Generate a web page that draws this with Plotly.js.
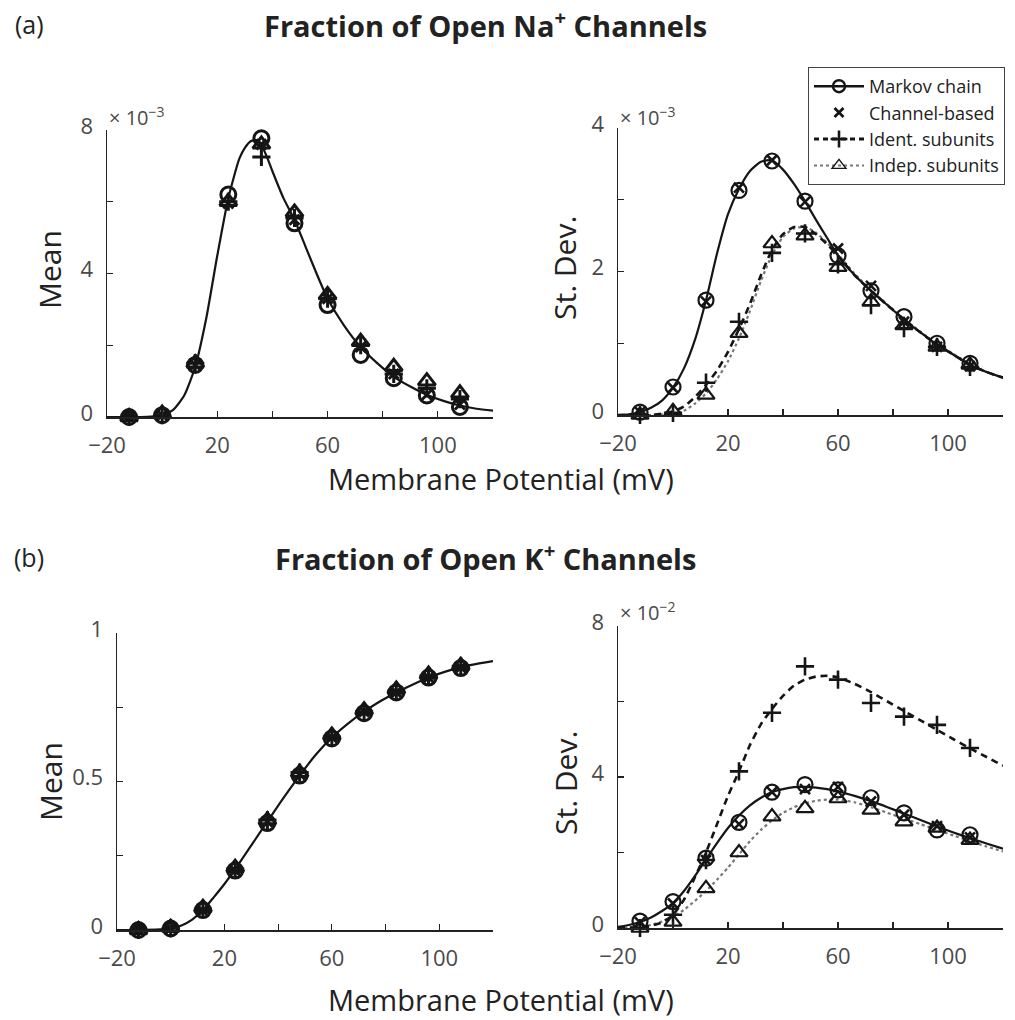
<!DOCTYPE html>
<html>
<head>
<meta charset="utf-8">
<script src="https://cdn.plot.ly/plotly-3.0.1.min.js"></script>
<style>html,body{margin:0;padding:0;background:#fff;}#chart{width:1015px;height:1020px;}</style>
</head>
<body>
<div id="chart"></div>
<script>
// ---------- DATA ----------
// Sample membrane potentials (mV)
const vSamples = [-12, 0, 12, 24, 36, 48, 60, 72, 84, 96, 108];

// Na mean curve (x 1e-3)
const vCurveNaMean = [-20,-16,-12,-8,-4,0,4,8,12,16,20,24,28,30,32,34,36,38,40,44,48,52,56,60,66,72,78,84,90,96,102,108,114,120];
const naMeanMarkovCurve = [0,0,0,0,0.01,0.05,0.2,0.6,1.4,2.75,4.5,6.1,7.2,7.5,7.68,7.72,7.58,7.25,6.85,6.1,5.5,4.75,4.0,3.3,2.55,1.95,1.5,1.12,0.85,0.62,0.45,0.32,0.23,0.18];

// Na mean markers (x 1e-3)
const naMeanMarkov   = [0, 0.05, 1.45, 6.2, 7.77, 5.4, 3.12, 1.73, 1.08, 0.6, 0.28];
const naMeanChannel  = [0, 0.05, 1.45, 5.95, 7.6, 5.5, 3.3, 1.95, 1.2, 0.62, 0.35];
const naMeanIdent    = [0, 0.05, 1.5, 6.0, 7.25, 5.55, 3.3, 2.0, 1.2, 0.8, 0.5];
const naMeanIndep    = [0, 0.1, 1.5, 6.0, 7.6, 5.7, 3.4, 2.1, 1.4, 1.0, 0.66];

// Na st.dev curves (x 1e-3)
const vCurve = [-20,-16,-12,-8,-4,0,4,8,12,16,20,24,28,32,36,40,44,48,52,56,60,66,72,78,84,90,96,102,108,114,120];
const naSdMarkovCurve = [0,0.01,0.04,0.1,0.2,0.38,0.65,1.05,1.6,2.25,2.8,3.15,3.4,3.53,3.55,3.42,3.22,2.98,2.72,2.47,2.22,1.95,1.73,1.53,1.33,1.15,0.98,0.84,0.7,0.6,0.52];
const naSdIdentCurve  = [0,0,0,0,0.02,0.05,0.12,0.25,0.42,0.62,0.88,1.2,1.55,1.95,2.3,2.52,2.62,2.62,2.52,2.38,2.22,1.95,1.73,1.53,1.33,1.15,0.98,0.84,0.7,0.6,0.52];
const naSdIndepCurve  = [0,0,0,0,0.01,0.02,0.06,0.16,0.3,0.5,0.75,1.07,1.45,1.87,2.23,2.48,2.6,2.62,2.54,2.4,2.24,1.97,1.74,1.54,1.34,1.16,0.99,0.85,0.71,0.6,0.52];

// Na st.dev markers (x 1e-3)
const naSdMarkov  = [0.04, 0.39, 1.6, 3.13, 3.54, 2.98, 2.22, 1.73, 1.37, 1.0, 0.72];
const naSdChannel = [0.04, 0.38, 1.58, 3.17, 3.55, 2.97, 2.32, 1.8, 1.3, 0.95, 0.68];
const naSdIdent   = [0.0, 0.03, 0.45, 1.3, 2.26, 2.53, 2.1, 1.53, 1.21, 0.95, 0.67];
const naSdIndep   = [0.0, 0.05, 0.28, 1.14, 2.39, 2.5, 2.06, 1.58, 1.25, 0.95, 0.7];

// K mean curve
const vCurveKMean = [-20,-12,-4,0,4,8,12,16,20,24,30,36,42,48,54,60,66,72,78,84,90,96,102,108,114,120];
const kMeanMarkovCurve = [0,0,0.002,0.005,0.015,0.035,0.067,0.11,0.155,0.205,0.285,0.365,0.445,0.52,0.59,0.648,0.695,0.735,0.77,0.8,0.826,0.85,0.869,0.885,0.896,0.905];

// K mean markers
const kMeanMarkov  = [0, 0.005, 0.067, 0.2, 0.36, 0.52, 0.645, 0.73, 0.8, 0.85, 0.882];
const kMeanChannel = [0, 0.005, 0.065, 0.2, 0.365, 0.525, 0.648, 0.735, 0.8, 0.85, 0.884];
const kMeanIdent   = [0, 0.006, 0.07, 0.205, 0.37, 0.53, 0.65, 0.735, 0.805, 0.855, 0.887];
const kMeanIndep   = [0, 0.008, 0.075, 0.21, 0.37, 0.53, 0.655, 0.74, 0.81, 0.86, 0.89];

// K st.dev curves (x 1e-2)
const kSdMarkovCurve = [0.03,0.08,0.16,0.28,0.45,0.66,0.98,1.38,1.82,2.25,2.65,2.98,3.25,3.45,3.6,3.68,3.73,3.74,3.72,3.68,3.62,3.5,3.36,3.2,3.03,2.86,2.69,2.53,2.38,2.24,2.1];
const kSdIdentCurve  = [0,0.01,0.02,0.06,0.15,0.35,0.75,1.35,2.0,2.75,3.5,4.15,4.85,5.4,5.8,6.15,6.42,6.58,6.66,6.68,6.64,6.47,6.25,6.0,5.75,5.5,5.25,5.0,4.76,4.53,4.3];
const kSdIndepCurve  = [0,0.01,0.02,0.08,0.17,0.3,0.48,0.72,0.98,1.28,1.6,1.95,2.3,2.6,2.85,3.05,3.2,3.3,3.37,3.4,3.4,3.33,3.2,3.05,2.9,2.75,2.6,2.45,2.3,2.16,2.03];

// K st.dev markers (x 1e-2)
const kSdMarkov  = [0.18, 0.7, 1.85, 2.8, 3.6, 3.8, 3.66, 3.45, 3.05, 2.6, 2.47];
const kSdChannel = [0.15, 0.65, 1.8, 2.75, 3.6, 3.68, 3.74, 3.35, 3.0, 2.7, 2.4];
const kSdIdent   = [0.0, 0.35, 1.8, 4.15, 5.7, 6.93, 6.58, 5.96, 5.6, 5.38, 4.77];
const kSdIndep   = [0.0, 0.16, 1.05, 2.0, 2.95, 3.17, 3.43, 3.13, 2.82, 2.65, 2.33];

const seriesNames = ['Markov chain', 'Channel-based', 'Ident. subunits', 'Indep. subunits'];

// ---------- STYLE ----------
const FONT = 'Open Sans, Noto Sans, sans-serif';
const INK = '#151515';
function mk(symbol, size, w) { return {symbol: symbol, size: size, color: INK, line: {width: w, color: INK}}; }
const MK = {
  markov:  mk('circle-open', 15, 2.2),
  channel: mk('x-thin-open', 10, 2.6),
  ident:   mk('cross-thin-open', 13, 2.6),
  indep:   mk('triangle-up-open', 15, 2.2)
};
const MKB = {  // heavier markers for the mean panels (overlapping marks look solid)
  markov:  mk('circle-open', 15, 3),
  channel: mk('x-thin-open', 10, 3),
  ident:   mk('cross-thin-open', 13, 3),
  indep:   mk('triangle-up-open', 15, 3)
};
const LN = {
  solid:  {color: INK, width: 2.2, shape: 'spline', smoothing: 0.6},
  dashed: {color: INK, width: 2.6, dash: '7px,5px', shape: 'spline', smoothing: 0.6},
  dotted: {color: '#777', width: 2.2, dash: 'dot', shape: 'spline', smoothing: 0.6}
};

function line(x, y, style, ax) {
  return {x: x, y: y, mode: 'lines', line: style, xaxis: 'x' + ax, yaxis: 'y' + ax,
          showlegend: false, hoverinfo: 'skip', cliponaxis: false};
}
function marks(y, m, ax) {
  return {x: vSamples, y: y, mode: 'markers', marker: m, xaxis: 'x' + ax, yaxis: 'y' + ax,
          showlegend: false, cliponaxis: false};
}

const traces = [
  // (a) left
  line(vCurveNaMean, naMeanMarkovCurve, LN.solid, ''),
  marks(naMeanIndep, MKB.indep, ''),
  marks(naMeanIdent, MKB.ident, ''),
  marks(naMeanChannel, MKB.channel, ''),
  marks(naMeanMarkov, MKB.markov, ''),
  // (a) right
  line(vCurve, naSdIndepCurve, LN.dotted, '2'),
  line(vCurve, naSdIdentCurve, LN.dashed, '2'),
  line(vCurve, naSdMarkovCurve, LN.solid, '2'),
  marks(naSdIndep, MK.indep, '2'),
  marks(naSdIdent, MK.ident, '2'),
  marks(naSdChannel, MK.channel, '2'),
  marks(naSdMarkov, MK.markov, '2'),
  // (b) left
  line(vCurveKMean, kMeanMarkovCurve, LN.solid, '3'),
  marks(kMeanIndep, MKB.indep, '3'),
  marks(kMeanIdent, MKB.ident, '3'),
  marks(kMeanChannel, MKB.channel, '3'),
  marks(kMeanMarkov, MKB.markov, '3'),
  // (b) right
  line(vCurve, kSdIndepCurve, LN.dotted, '4'),
  line(vCurve, kSdIdentCurve, LN.dashed, '4'),
  line(vCurve, kSdMarkovCurve, LN.solid, '4'),
  marks(kSdIndep, MK.indep, '4'),
  marks(kSdIdent, MK.ident, '4'),
  marks(kSdChannel, MK.channel, '4'),
  marks(kSdMarkov, MK.markov, '4')
];

// legend entries (no data, legend only)
const legendStyles = [
  {mode: 'lines+markers', line: {color: INK, width: 2.4}, marker: mk('circle-open', 12, 2.4)},
  {mode: 'markers', marker: mk('x-thin-open', 9, 2.8)},
  {mode: 'lines+markers', line: {color: INK, width: 2.8, dash: '5px,4px'}, marker: mk('cross-thin-open', 12, 2.6)},
  {mode: 'lines+markers', line: {color: '#777', width: 2, dash: 'dot'}, marker: mk('triangle-up-open', 12, 1.4)}
];
seriesNames.forEach((n, i) => {
  traces.push(Object.assign({x: [null], y: [null], name: n, xaxis: 'x2', yaxis: 'y2', showlegend: true}, legendStyles[i]));
});

// ---------- LAYOUT ----------
const W = 1015, H = 1020;
const px = v => v / W, py = v => 1 - v / H;
const TICKFONT = {family: FONT, size: 22, color: '#4a4a4a'};

function xax(l, r, anchor) {
  return {domain: [px(l), px(r)], range: [-20, 120], anchor: anchor,
    tickmode: 'linear', tick0: -20, dtick: 40,
    ticks: 'inside', ticklen: 6, tickwidth: 1.2, tickcolor: '#222',
    minor: {tickmode: 'linear', tick0: -20, dtick: 20, ticks: 'inside', ticklen: 6, tickwidth: 1.2, tickcolor: '#222', showgrid: false},
    showline: true, linecolor: '#222', linewidth: 1.5, showgrid: false, zeroline: false,
    tickfont: TICKFONT, ticklabelstandoff: 8, fixedrange: true};
}
function yax(b, t, anchor, range, major, minor) {
  return {domain: [py(b), py(t)], range: range, anchor: anchor,
    tickmode: 'linear', tick0: 0, dtick: major,
    ticks: 'inside', ticklen: 6, tickwidth: 1.2, tickcolor: '#222',
    minor: {tickmode: 'linear', tick0: 0, dtick: minor, ticks: 'inside', ticklen: 6, tickwidth: 1.2, tickcolor: '#222', showgrid: false},
    showline: true, linecolor: '#222', linewidth: 1.5, showgrid: false, zeroline: false,
    tickfont: TICKFONT, ticklabelstandoff: 8, ticklabelshift: -4, fixedrange: true};
}

function ann(text, x, y, size, opts) {
  return Object.assign({text: text, x: px(x), y: py(y), xref: 'paper', yref: 'paper',
    showarrow: false, xanchor: 'center', yanchor: 'middle',
    font: {family: FONT, size: size, color: '#222'}}, opts || {});
}
const EXP = {family: FONT, size: 20, color: '#4a4a4a'};

const layout = {
  width: W, height: H, margin: {l: 0, r: 0, t: 0, b: 0},
  paper_bgcolor: '#fff', plot_bgcolor: 'rgba(0,0,0,0)',
  font: {family: FONT, color: '#222'},
  xaxis:  xax(107, 493, 'y'),
  yaxis:  yax(417, 130, 'x', [0, 8], 4, 2),
  xaxis2: xax(618, 1003, 'y2'),
  yaxis2: yax(415, 128, 'x2', [0, 4], 2, 1),
  xaxis3: xax(117, 493, 'y3'),
  yaxis3: yax(930, 633, 'x3', [0, 1], 0.5, 0.25),
  xaxis4: xax(618, 1003, 'y4'),
  yaxis4: yax(928, 626, 'x4', [0, 8], 4, 2),
  showlegend: true,
  legend: {x: px(808), y: py(67), xanchor: 'left', yanchor: 'top',
    bgcolor: '#fff', bordercolor: '#444', borderwidth: 1,
    font: {family: FONT, size: 18, color: '#222'}, itemwidth: 50, tracegroupgap: 0,
    itemclick: false, itemdoubleclick: false},
  annotations: [
    ann('(a)', 29, 24, 25),
    ann('<b>Fraction of Open Na<sup>+</sup> Channels</b>', 485, 24, 29),
    ann('(b)', 29, 557, 25),
    ann('<b>Fraction of Open K<sup>+</sup> Channels</b>', 485, 557, 29),
    ann('Mean', 50, 270, 30, {textangle: -90}),
    ann('St. Dev.', 565, 268, 30, {textangle: -90}),
    ann('Mean', 50, 782, 30, {textangle: -90}),
    ann('St. Dev.', 565, 783, 30, {textangle: -90}),
    ann('Membrane Potential (mV)', 501, 478, 29),
    ann('Membrane Potential (mV)', 501, 999, 29),
    ann('\u00d7 10<sup>\u22123</sup>', 107, 116, 20, {xanchor: 'left', font: EXP}),
    ann('\u00d7 10<sup>\u22123</sup>', 618, 116, 20, {xanchor: 'left', font: EXP}),
    ann('\u00d7 10<sup>\u22122</sup>', 618, 611, 20, {xanchor: 'left', font: EXP})
  ]
};

Plotly.newPlot('chart', traces, layout, {staticPlot: true, displayModeBar: false});
</script>
</body>
</html>
